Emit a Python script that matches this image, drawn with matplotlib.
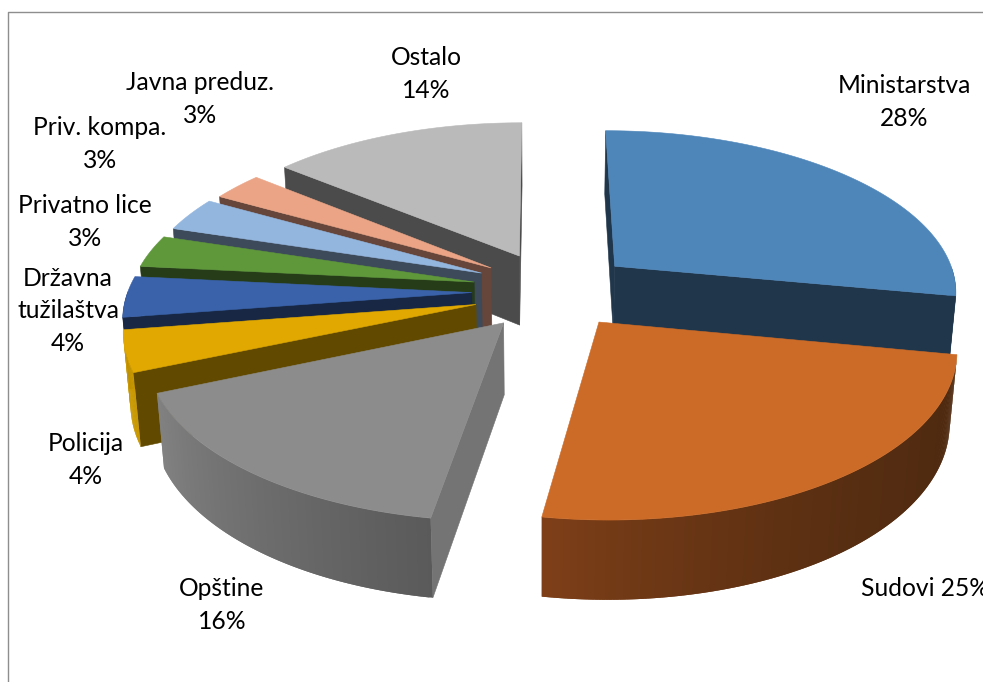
import numpy as np
import matplotlib
matplotlib.use("Agg")
import matplotlib.pyplot as plt
from matplotlib.colors import to_rgb

# ---- data (clockwise from 12 o'clock) ----
CATEGORIES = ["Ministarstva", "Sudovi", "Opštine", "Policija", "Državna\ntužilaštva",
              "Privatno lice", "Priv. kompa.", "Javna preduz.", "Ostalo"]
VALUES = [28, 24.6, 16, 4, 4, 3.2, 3.4, 2.8, 14]

# ---- styles ----
EXPLODE_U = [0.222, 0.167, -0.103, -0.184, -0.198, -0.193, -0.173, -0.145, -0.062]
EXPLODE_V = [-0.182, 0.163, 0.168, 0.058, -0.015, -0.081, -0.138, -0.171, -0.249]
TOP_COLORS = ["#4E86BA", "#CC6B27", "#8C8C8C", "#E0A800", "#3A62AB", "#5F973B", "#93B6DF", "#EBA486", "#BABABA"]
CUT_COLORS = ["#20364B", "#5A2E12", "#747474", "#614A00", "#172744", "#263C18", "#3C4A5A", "#66463A", "#4B4B4B"]
RIM_START = ["#20364B", "#4F2A10", "#5A5A5A", "#C99800", "#172744", "#263C18", "#3C4A5A", "#66463A", "#4B4B4B"]
RIM_END = ["#20364B", "#7E3F18", "#828282", "#C99800", "#172744", "#263C18", "#3C4A5A", "#66463A", "#4B4B4B"]
RIM_POWER = [1, 2.2, 1, 1, 1, 1, 1, 1, 1]
DRAW_ORDER = [0, 8, 7, 6, 5, 4, 3, 2, 1]
LABEL_X = [904, 925, 222, 86, 68, 85, 100, 200, 426]
LABEL_Y = [102, 589, 605, 460, 311, 222, 144, 99, 74]
LABEL_SEP = ["\n", " ", "\n", "\n", "\n", "\n", "\n", "\n", "\n"]

CX, CY = 540.0, 295.0   # projected pie centre
RX, RY = 345.0, 162.0   # radius scales
PERSP = 0.14            # foreshortening with depth
THICK = 72.0            # slab thickness on screen
THICK_P = 0.0172        # shrink of the lower face


def project(u, v, lower=False):
    u, v = np.asarray(u, float), np.asarray(v, float)
    s = 1.0 / (1.0 - PERSP * v + (THICK_P if lower else 0.0))
    return CX + RX * u * s, CY + (RY * v + (THICK if lower else 0.0)) * s


def mix(a, b, t):
    a, b = np.array(to_rgb(a)), np.array(to_rgb(b))
    return tuple(a + (b - a) * t)


fig = plt.figure(figsize=(9.83, 6.82), dpi=100)
ax = fig.add_axes([0, 0, 1, 1])
ax.set_xlim(0, 983)
ax.set_ylim(682, 0)
ax.axis("off")

# chart frame
ax.plot([8, 8, 990], [690, 11.5, 11.5], color="#8E8E8E", lw=1.0, zorder=0)

edges = np.concatenate([[0], np.cumsum(VALUES)]) / np.sum(VALUES) * 2 * np.pi
z = 1


def poly(xs, ys, color, lw=0.4):
    global z
    ax.fill(xs, ys, facecolor=color, edgecolor=color if lw else "none", lw=lw, zorder=z)
    z += 1


for i in DRAW_ORDER:
    t0, t1 = edges[i], edges[i + 1]
    th = np.linspace(t0, t1, max(int(np.degrees(t1 - t0)), 6) * 2 + 1)
    au, av = EXPLODE_U[i], EXPLODE_V[i]
    ru, rv = au + np.sin(th), av - np.cos(th)

    ax_, ay_ = project(au, av)
    sx, sy = project(ru, rv)
    bx_, by_ = project(au, av, True)
    bx, by = project(ru, rv, True)

    # cut faces that turn towards the viewer
    for k, other in ((0, -1), (-1, 0)):
        dx, dy = sx[k] - ax_, sy[k] - ay_
        nx, ny = -dy, dx
        if nx * (sx[other] - ax_) + ny * (sy[other] - ay_) > 0:
            nx, ny = -nx, -ny
        if ny > 0:
            poly([ax_, sx[k], bx[k], bx_], [ay_, sy[k], by[k], by_], CUT_COLORS[i])

    # outer rim, shaded strip by strip; each strip overlaps the next to hide seams
    n = len(th)
    for j in range(n - 1):
        mid = 0.5 * (th[j] + th[j + 1])
        if -np.cos(mid) <= 0:
            continue
        k = min(j + 2, n - 1)
        t = ((mid - t0) / (t1 - t0)) ** RIM_POWER[i]
        poly([sx[j], sx[k], bx[k], bx[j]], [sy[j], sy[k], by[k], by[j]],
             mix(RIM_START[i], RIM_END[i], t), lw=0)

    # top surface
    poly(np.r_[ax_, sx], np.r_[ay_, sy], TOP_COLORS[i])

for i, name in enumerate(CATEGORIES):
    label = f"{name}{LABEL_SEP[i]}{round(VALUES[i])}%"
    ax.text(LABEL_X[i], LABEL_Y[i], label, ha="center", va="center", fontsize=17.7,
            family="Lato", color="#000000", linespacing=1.5, zorder=1000)

fig.savefig("out.png", dpi=100)
